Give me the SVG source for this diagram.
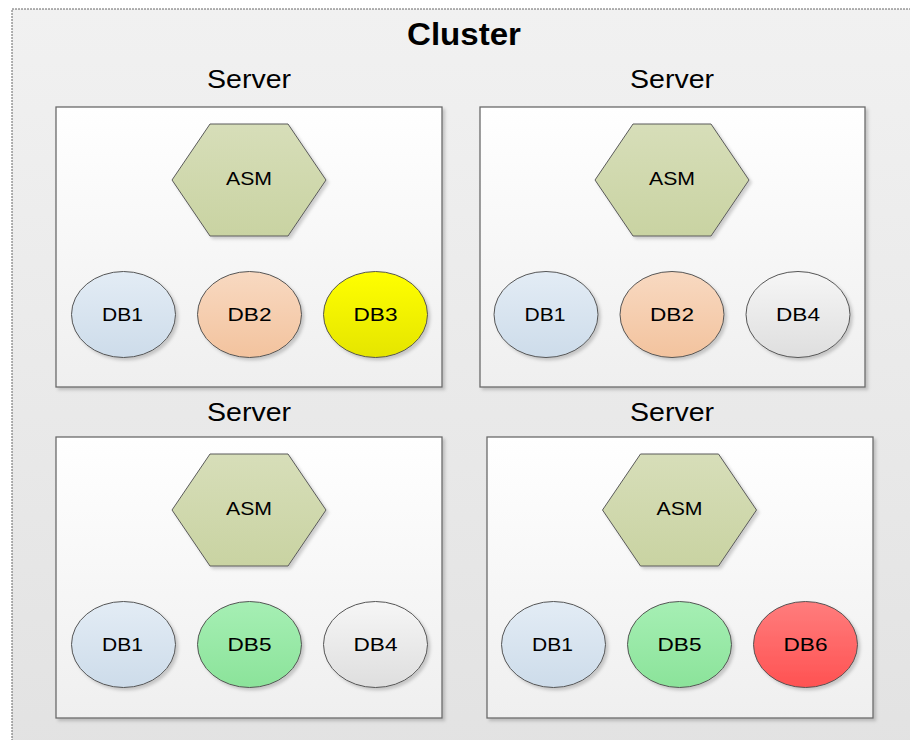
<svg xmlns="http://www.w3.org/2000/svg" width="910" height="740" viewBox="0 0 910 740">
  <defs>
    <linearGradient id="gCluster" x1="0" y1="0" x2="0" y2="1">
      <stop offset="0" stop-color="#f1f1f1"/>
      <stop offset="1" stop-color="#e2e2e2"/>
    </linearGradient>
    <linearGradient id="gServer" x1="0" y1="0" x2="0" y2="1">
      <stop offset="0" stop-color="#ffffff"/>
      <stop offset="1" stop-color="#efefef"/>
    </linearGradient>
    <linearGradient id="gAsm" x1="0" y1="0" x2="0" y2="1">
      <stop offset="0" stop-color="#d7deb9"/>
      <stop offset="1" stop-color="#c9d3a2"/>
    </linearGradient>
    <linearGradient id="gBlue" x1="0" y1="0" x2="0" y2="1">
      <stop offset="0" stop-color="#e3ecf5"/>
      <stop offset="1" stop-color="#cddcea"/>
    </linearGradient>
    <linearGradient id="gOrange" x1="0" y1="0" x2="0" y2="1">
      <stop offset="0" stop-color="#f8d9c1"/>
      <stop offset="1" stop-color="#f3c39e"/>
    </linearGradient>
    <linearGradient id="gYellow" x1="0" y1="0" x2="0" y2="1">
      <stop offset="0" stop-color="#ffff00"/>
      <stop offset="1" stop-color="#e5e500"/>
    </linearGradient>
    <linearGradient id="gGray" x1="0" y1="0" x2="0" y2="1">
      <stop offset="0" stop-color="#f6f6f6"/>
      <stop offset="1" stop-color="#dedede"/>
    </linearGradient>
    <linearGradient id="gGreen" x1="0" y1="0" x2="0" y2="1">
      <stop offset="0" stop-color="#a6efb4"/>
      <stop offset="1" stop-color="#8be39a"/>
    </linearGradient>
    <linearGradient id="gRed" x1="0" y1="0" x2="0" y2="1">
      <stop offset="0" stop-color="#ff7d7d"/>
      <stop offset="1" stop-color="#ff5252"/>
    </linearGradient>
    <filter id="shadow" x="-10%" y="-10%" width="130%" height="130%">
      <feDropShadow dx="2.5" dy="2.5" stdDeviation="1.5" flood-color="#000" flood-opacity="0.18"/>
    </filter>
    <polygon id="hex" points="-77,0 -39,-56 39,-56 77,0 39,56 -39,56"/>
  </defs>
  <style>
    .server { fill: url(#gServer); stroke: #6a6a6a; stroke-width: 1.3; filter: url(#shadow); }
    .asm { fill: url(#gAsm); stroke: #5a5a5a; stroke-width: 1; filter: url(#shadow); }
    .db { stroke: #555; stroke-width: 1; filter: url(#shadow); }
    .t { font-family: "Liberation Sans", Arial, sans-serif; fill: #000; text-anchor: middle; }
    .title { font-size: 32px; font-weight: bold; }
    .label { font-size: 25px; }
    .node { font-size: 18.5px; }
  </style>

  <rect width="910" height="740" fill="#ffffff"/>

  <!-- cluster container -->
  <g id="cluster">
    <rect x="12" y="9" width="920" height="760" fill="url(#gCluster)" stroke="#666" stroke-width="1" stroke-dasharray="2,1"/>
    <text class="t title" x="464" y="45" textLength="114" lengthAdjust="spacingAndGlyphs">Cluster</text>
  </g>

  <!-- server 1 (top left) -->
  <g id="server1">
    <text class="t label" x="249" y="88" textLength="84" lengthAdjust="spacingAndGlyphs">Server</text>
    <rect class="server" x="56" y="107" width="386" height="280"/>
    <g id="s1-asm">
      <use href="#hex" class="asm" x="249" y="180"/>
      <text class="t node" x="249" y="185" textLength="46" lengthAdjust="spacingAndGlyphs">ASM</text>
    </g>
    <g id="s1-db1">
      <ellipse class="db" cx="123.5" cy="314.5" rx="52" ry="43" fill="url(#gBlue)"/>
      <text class="t node" x="122.5" y="321" textLength="41" lengthAdjust="spacingAndGlyphs">DB1</text>
    </g>
    <g id="s1-db2">
      <ellipse class="db" cx="249.5" cy="314.5" rx="52" ry="43" fill="url(#gOrange)"/>
      <text class="t node" x="249.5" y="321" textLength="44" lengthAdjust="spacingAndGlyphs">DB2</text>
    </g>
    <g id="s1-db3">
      <ellipse class="db" cx="375.5" cy="314.5" rx="52" ry="43" fill="url(#gYellow)"/>
      <text class="t node" x="375.5" y="321" textLength="44" lengthAdjust="spacingAndGlyphs">DB3</text>
    </g>
  </g>

  <!-- server 2 (top right) -->
  <g id="server2">
    <text class="t label" x="672" y="88" textLength="84" lengthAdjust="spacingAndGlyphs">Server</text>
    <rect class="server" x="480" y="107" width="385" height="280"/>
    <g id="s2-asm">
      <use href="#hex" class="asm" x="672" y="180"/>
      <text class="t node" x="672" y="185" textLength="46" lengthAdjust="spacingAndGlyphs">ASM</text>
    </g>
    <g id="s2-db1">
      <ellipse class="db" cx="546" cy="314.5" rx="52" ry="43" fill="url(#gBlue)"/>
      <text class="t node" x="545" y="321" textLength="41" lengthAdjust="spacingAndGlyphs">DB1</text>
    </g>
    <g id="s2-db2">
      <ellipse class="db" cx="672" cy="314.5" rx="52" ry="43" fill="url(#gOrange)"/>
      <text class="t node" x="672" y="321" textLength="44" lengthAdjust="spacingAndGlyphs">DB2</text>
    </g>
    <g id="s2-db4">
      <ellipse class="db" cx="798" cy="314.5" rx="52" ry="43" fill="url(#gGray)"/>
      <text class="t node" x="798" y="321" textLength="44" lengthAdjust="spacingAndGlyphs">DB4</text>
    </g>
  </g>

  <!-- server 3 (bottom left) -->
  <g id="server3">
    <text class="t label" x="249" y="421" textLength="84" lengthAdjust="spacingAndGlyphs">Server</text>
    <rect class="server" x="56" y="437" width="386" height="281"/>
    <g id="s3-asm">
      <use href="#hex" class="asm" x="249" y="510"/>
      <text class="t node" x="249" y="515" textLength="46" lengthAdjust="spacingAndGlyphs">ASM</text>
    </g>
    <g id="s3-db1">
      <ellipse class="db" cx="123.5" cy="644.5" rx="52" ry="43" fill="url(#gBlue)"/>
      <text class="t node" x="122.5" y="651" textLength="41" lengthAdjust="spacingAndGlyphs">DB1</text>
    </g>
    <g id="s3-db5">
      <ellipse class="db" cx="249.5" cy="644.5" rx="52" ry="43" fill="url(#gGreen)"/>
      <text class="t node" x="249.5" y="651" textLength="44" lengthAdjust="spacingAndGlyphs">DB5</text>
    </g>
    <g id="s3-db4">
      <ellipse class="db" cx="375.5" cy="644.5" rx="52" ry="43" fill="url(#gGray)"/>
      <text class="t node" x="375.5" y="651" textLength="44" lengthAdjust="spacingAndGlyphs">DB4</text>
    </g>
  </g>

  <!-- server 4 (bottom right) -->
  <g id="server4">
    <text class="t label" x="672" y="421" textLength="84" lengthAdjust="spacingAndGlyphs">Server</text>
    <rect class="server" x="487" y="437" width="386" height="281"/>
    <g id="s4-asm">
      <use href="#hex" class="asm" x="679.5" y="510"/>
      <text class="t node" x="679.5" y="515" textLength="46" lengthAdjust="spacingAndGlyphs">ASM</text>
    </g>
    <g id="s4-db1">
      <ellipse class="db" cx="553.5" cy="644.5" rx="52" ry="43" fill="url(#gBlue)"/>
      <text class="t node" x="552.5" y="651" textLength="41" lengthAdjust="spacingAndGlyphs">DB1</text>
    </g>
    <g id="s4-db5">
      <ellipse class="db" cx="679.5" cy="644.5" rx="52" ry="43" fill="url(#gGreen)"/>
      <text class="t node" x="679.5" y="651" textLength="44" lengthAdjust="spacingAndGlyphs">DB5</text>
    </g>
    <g id="s4-db6">
      <ellipse class="db" cx="805.5" cy="644.5" rx="52" ry="43" fill="url(#gRed)"/>
      <text class="t node" x="805.5" y="651" textLength="44" lengthAdjust="spacingAndGlyphs">DB6</text>
    </g>
  </g>

  <!-- no connectors in this layout -->
  <g id="connectors"/>
</svg>
